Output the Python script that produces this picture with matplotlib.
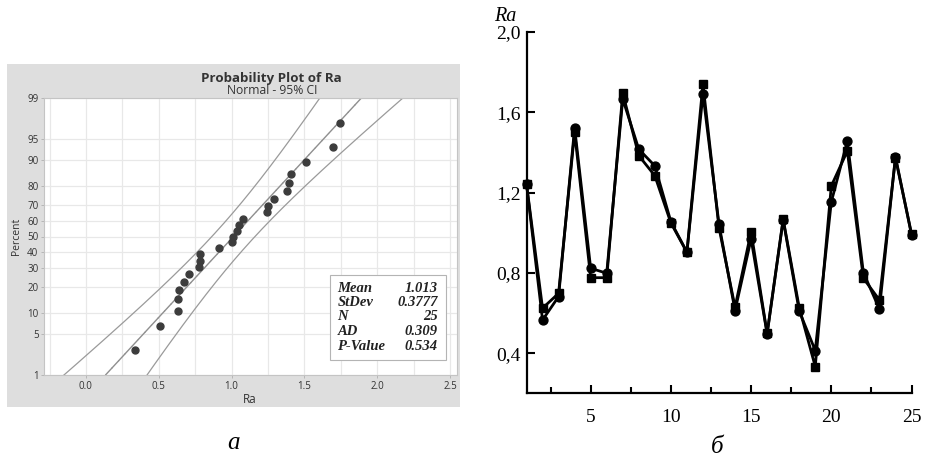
import numpy as np
import matplotlib
matplotlib.use("Agg")
import matplotlib.pyplot as plt
from matplotlib.patches import Rectangle
from matplotlib.collections import LineCollection
from statistics import NormalDist

# ---------------- data ----------------
# panel a: normal probability plot of Ra (sorted values and plotted percents)
prob_ra = [0.337, 0.506, 0.630, 0.634, 0.639, 0.671, 0.705, 0.776, 0.783, 0.783,
           0.911, 1.003, 1.012, 1.037, 1.051, 1.076, 1.241, 1.248, 1.289, 1.380,
           1.394, 1.410, 1.509, 1.699, 1.747]
prob_pct = [2.8, 6.7, 10.6, 14.6, 18.5, 22.4, 26.4, 30.3, 34.3, 38.2,
            42.1, 46.1, 50.0, 53.9, 57.9, 61.8, 65.7, 69.7, 73.6, 77.6,
            81.5, 85.4, 89.4, 93.3, 97.2]
stat_mean = 1.013
stat_sd = 0.3777
stat_n = 25
stat_labels = ["Mean", "StDev", "N", "AD", "P-Value"]
stat_values = ["1.013", "0.3777", "25", "0.309", "0.534"]
pct_ticks = [1, 5, 10, 20, 30, 40, 50, 60, 70, 80, 90, 95, 99]
ra_ticks = [0.0, 0.5, 1.0, 1.5, 2.0, 2.5]
ra_tick_labels = ["0.0", "0.5", "1.0", "1.5", "2.0", "2.5"]

# panel b: Ra by sample number, two series
sample_no = list(range(1, 26))
ra_circle = [1.243, 0.565, 0.682, 1.523, 0.823, 0.798, 1.666, 1.416, 1.333, 1.055,
             0.903, 1.691, 1.042, 0.612, 0.969, 0.496, 1.064, 0.610, 0.413, 1.153,
             1.457, 0.801, 0.620, 1.379, 0.990]
ra_square = [1.243, 0.624, 0.698, 1.500, 0.776, 0.776, 1.695, 1.384, 1.284, 1.049,
             0.903, 1.741, 1.025, 0.629, 1.005, 0.498, 1.068, 0.627, 0.333, 1.233,
             1.407, 0.773, 0.665, 1.372, 0.995]
b_yticks = [0.4, 0.8, 1.2, 1.6, 2.0]
b_ytick_labels = ["0,4", "0,8", "1,2", "1,6", "2,0"]
b_xticks = [5, 10, 15, 20, 25]
b_xticks_minor = [2.5, 7.5, 12.5, 17.5, 22.5]

# ---------------- figure ----------------
W, H = 926, 458
fig = plt.figure(figsize=(W / 100, H / 100), dpi=100)

def fx(x):
    return x / W

def fy(y):
    return 1 - y / H

def rect(l, t, r, b):
    return [fx(l), fy(b), (r - l) / W, (b - t) / H]

# --- panel a background (Minitab grey)
fig.patches.append(Rectangle((fx(7), fy(407)), (460 - 7) / W, (407 - 64) / H,
                             transform=fig.transFigure, facecolor="#dedede",
                             edgecolor="none", zorder=-5))

nd = NormalDist()

def pct_to_z(p):
    return np.array([nd.inv_cdf(v / 100.0) for v in np.atleast_1d(p)], dtype=float)

ax1 = fig.add_axes(rect(44, 98, 456.5, 375))
ax1.set_zorder(1)
ax1.set_facecolor("white")
z_lo, z_hi = nd.inv_cdf(0.01), nd.inv_cdf(0.99)
ax1.set_xlim(-0.288, 2.545)
ax1.set_ylim(z_lo, z_hi)

sans = ["Open Sans", "DejaVu Sans"]
# grid
for gx in np.arange(-0.25, 2.51, 0.25):
    ax1.axvline(gx, color="#e8e8e8", lw=0.9, zorder=0.5)
for gz in pct_to_z(pct_ticks):
    ax1.axhline(gz, color="#e8e8e8", lw=0.9, zorder=0.5)

# fitted normal line and its 95% CI (Ra as a function of the normal score)
zz = np.linspace(z_lo - 0.3, z_hi + 0.3, 150)
fit_curve = stat_mean + zz * stat_sd
half = 1.96 * stat_sd * np.sqrt(1.0 / stat_n + zz ** 2 / (2.0 * stat_n))
ax1.plot(fit_curve - half, zz, color="#9a9a9a", lw=0.9, zorder=2)
ax1.plot(fit_curve + half, zz, color="#9a9a9a", lw=0.9, zorder=2)

# fitted line drawn as a collection of short segments
zf = np.linspace(z_lo, z_hi, 40)
xf = stat_mean + zf * stat_sd
fit_pts = np.column_stack([xf, zf])
fit_segs = np.stack([fit_pts[:-1], fit_pts[1:]], axis=1)
ax1.add_collection(LineCollection(fit_segs, colors="#8f8f8f", linewidths=1.0,
                                  zorder=2.2, capstyle="round"))

ax1.plot(prob_ra, pct_to_z(prob_pct), linestyle="none", marker="o", markersize=5.0,
         color="#3c3c3c", zorder=3)

ax1.set_xlim(-0.288, 2.545)
ax1.set_ylim(z_lo, z_hi)
ax1.set_yticks(pct_to_z(pct_ticks))
ax1.set_yticklabels([str(p) for p in pct_ticks])
ax1.set_xticks(ra_ticks)
ax1.set_xticklabels(ra_tick_labels)
ax1.tick_params(axis="both", length=2, width=0.6, color="#b0b0b0",
                labelcolor="#333333", labelsize=7, pad=2)
for lab in ax1.get_xticklabels() + ax1.get_yticklabels():
    lab.set_family(sans)
for s in ax1.spines.values():
    s.set_color("#c4c4c4")
    s.set_linewidth(0.8)

fig.text(fx(16.5), fy(236), "Percent", rotation=90, ha="center", va="center",
         fontsize=7.5, color="#333333", family=sans)
fig.text(fx(250), fy(399.5), "Ra", ha="center", va="center",
         fontsize=8.5, color="#333333", family=sans)
fig.text(fx(271), fy(78.5), "Probability Plot of Ra", ha="center", va="center",
         fontsize=9.6, fontweight="bold", color="#333333", family=sans)
fig.text(fx(272.5), fy(91), "Normal - 95% CI", ha="center", va="center",
         fontsize=8.7, color="#333333", family=sans)

# stats box
fig.patches.append(Rectangle((fx(330), fy(359.5)), (445.7 - 330) / W, (359.5 - 275) / H,
                             transform=fig.transFigure, facecolor="white",
                             edgecolor="#b4b4b4", lw=0.8, zorder=5))
row_y = [288.3, 302.5, 316.7, 331.5, 346.0]
for lab, val, yy in zip(stat_labels, stat_values, row_y):
    fig.text(fx(337.5), fy(yy), lab, ha="left", va="center", fontsize=10.5,
             family="Liberation Serif", style="italic", fontweight="bold",
             color="#222222", zorder=6)
    fig.text(fx(438), fy(yy), val, ha="right", va="center", fontsize=10.5,
             family="Liberation Serif", style="italic", fontweight="bold",
             color="#222222", zorder=6)

# --- panel b
serif = "Liberation Serif"
ax2 = fig.add_axes(rect(526.5, 32, 911.5, 393.3))
ax2.plot(sample_no, ra_square, color="black", lw=2.0, marker="s", markersize=5.6,
         clip_on=False, zorder=3)
ax2.plot(sample_no, ra_circle, color="black", lw=2.0, marker="o", markersize=6.4,
         clip_on=False, zorder=4)
ax2.set_xlim(1, 25)
ax2.set_ylim(0.2, 2.0)
ax2.set_yticks(b_yticks)
ax2.set_yticklabels(b_ytick_labels)
ax2.set_xticks(b_xticks)
ax2.set_xticks(b_xticks_minor, minor=True)
ax2.spines["top"].set_visible(False)
ax2.spines["right"].set_visible(False)
for s in ("left", "bottom"):
    ax2.spines[s].set_linewidth(1.6)
ax2.tick_params(axis="both", which="major", direction="in", length=6, width=1.5,
                labelsize=14)
ax2.tick_params(axis="x", which="minor", direction="in", length=4, width=1.5)
ax2.tick_params(axis="y", which="major", pad=4)
ax2.tick_params(axis="x", which="major", pad=11.5)
for lab in ax2.get_xticklabels() + ax2.get_yticklabels():
    lab.set_family(serif)

fig.text(fx(505), fy(16.5), "Ra", ha="center", va="center", fontsize=14.5,
         family=serif, style="italic")
fig.text(fx(717), fy(447), "б", ha="center", va="center", fontsize=18,
         family=serif, style="italic")
fig.text(fx(234), fy(443), "а", ha="center", va="center", fontsize=18,
         family=serif, style="italic")

fig.savefig("out.png", dpi=100)
